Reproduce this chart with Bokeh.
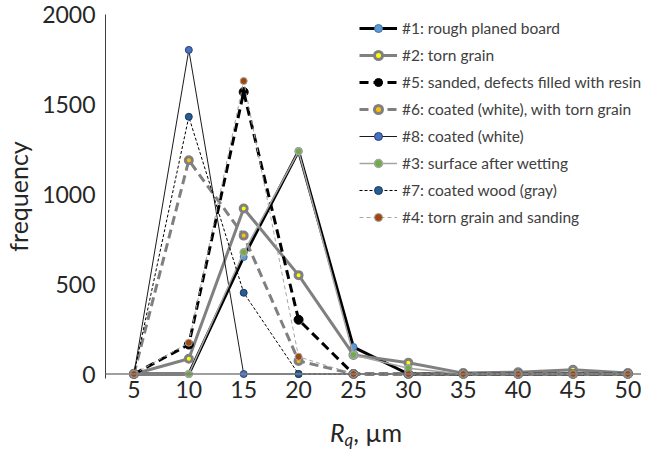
from bokeh.plotting import figure
from bokeh.models import Legend, LegendItem, Span, FixedTicker, Range1d, Div
from bokeh.layouts import column
from bokeh.embed import file_html
from bokeh.resources import INLINE

# ---- data ----
rq = [5, 10, 15, 20, 25, 30, 35, 40, 45, 50]
s1_rough = [0, 0, 651, 1240, 150, 0, 0, 0, 0, 0]
s2_torn = [0, 85, 921, 550, 106, 63, 5, 10, 24, 6]
s5_sanded = [0, 164, 1569, 302, 0, 0, 0, 0, 0, 0]
s6_coated_torn = [0, 1189, 770, 73, 0, 0, 0, 0, 0, 0]
s8_coated_white = [0, 1803, 0, 0, 0, 0, 0, 0, 0, 0]
s3_wetting = [0, 0, 677, 1239, 106, 32, 0, 0, 0, 0]
s7_coated_gray = [0, 1431, 452, 0, 0, 0, 0, 0, 0, 0]
s4_torn_sanding = [0, 174, 1630, 96, 0, 0, 0, 0, 0, 0]

labels = [
    "#1: rough planed board",
    "#2: torn grain",
    "#5: sanded, defects filled with resin",
    "#6: coated (white), with torn grain",
    "#8: coated (white)",
    "#3: surface after wetting",
    "#7: coated wood (gray)",
    "#4: torn grain and sanding",
]
y_ticks = [0, 500, 1000, 1500, 2000]

series = [s1_rough, s2_torn, s5_sanded, s6_coated_torn, s8_coated_white,
          s3_wetting, s7_coated_gray, s4_torn_sanding]

# styles: line color, width, dash, marker fill, marker line, marker size, marker line width
styles = [
    ("#000000", 3, "solid", "#5B9BD5", "#41719C", 7, 1),
    ("#808080", 3, "solid", "#FFFF00", "#808080", 7, 3),
    ("#000000", 3, "9 5", "#000000", "#000000", 9, 1),
    ("#808080", 3, "9 5", "#FFC000", "#808080", 7, 3),
    ("#1a1a1a", 1, "solid", "#4472C4", "#2F3F6F", 7, 1),
    ("#A5A5A5", 1.5, "solid", "#70AD47", "#A5A5A5", 7, 1.5),
    ("#000000", 1, "3 2", "#255E91", "#1F3864", 7, 1),
    ("#A5A5A5", 1, "4 3", "#9E480E", "#A5A5A5", 7, 1),
]

FONT = "Lato"

p = figure(width=641, height=410, output_backend="svg", toolbar_location=None,
           x_range=Range1d(2.41, 51.24), y_range=Range1d(-25, 2000),
           min_border_left=100, min_border_right=0, min_border_top=14, min_border_bottom=32)
p.outline_line_color = None
p.xgrid.grid_line_color = None
p.ygrid.grid_line_color = None
p.background_fill_color = "white"

items = []
for vals, lab, st in zip(series, labels, styles):
    lc, lw, dash, mf, ml, ms, mlw = st
    r1 = p.line(rq, vals, line_color=lc, line_width=lw, line_dash=dash)
    r2 = p.scatter(rq, vals, marker="circle", size=ms, fill_color=mf, line_color=ml, line_width=mlw)
    items.append(LegendItem(label=lab, renderers=[r1, r2]))

# axes
p.xaxis.ticker = FixedTicker(ticks=rq)
p.yaxis.ticker = FixedTicker(ticks=y_ticks)
for ax in (p.xaxis, p.yaxis):
    ax.major_tick_line_color = None
    ax.minor_tick_line_color = None
    ax.major_tick_out = 0
    ax.major_tick_in = 0
    ax.minor_tick_out = 0
    ax.major_label_text_font = FONT
    ax.major_label_text_font_size = "23px"
    ax.major_label_text_color = "#262626"
p.xaxis.axis_line_color = None
p.xaxis.major_label_standoff = 2
p.yaxis.axis_line_color = "#404040"
p.yaxis.major_label_standoff = 10
p.yaxis.axis_label = "frequency"
p.yaxis.axis_label_text_font = FONT
p.yaxis.axis_label_text_font_size = "25px"
p.yaxis.axis_label_text_font_style = "normal"
p.yaxis.axis_label_text_color = "#262626"
p.yaxis.axis_label_standoff = 6

p.add_layout(Span(location=0, dimension="width", line_color="#808080", line_width=1.5))

legend = Legend(items=items, location=(254, 151), border_line_color=None,
                background_fill_alpha=0, padding=0, margin=0, spacing=7,
                glyph_width=38, glyph_height=20, label_height=20, label_standoff=5,
                label_text_font=FONT, label_text_font_size="15.5px", label_text_color="#404040")
p.add_layout(legend)

# x axis title: R_q, µm (italic R with subscript q)
xtitle = Div(
    text='<i>R</i><sub style="font-size:17px;font-style:italic;vertical-align:-4px;">q</sub>, µm',
    width=641, height=28,
    styles={"font-family": FONT, "font-size": "25px", "color": "#262626",
            "padding-left": "325px", "line-height": "34px", "white-space": "nowrap",
            "overflow": "visible"},
)

layout = column(p, xtitle, spacing=0)
open("out.html", "w").write(file_html(layout, INLINE))
